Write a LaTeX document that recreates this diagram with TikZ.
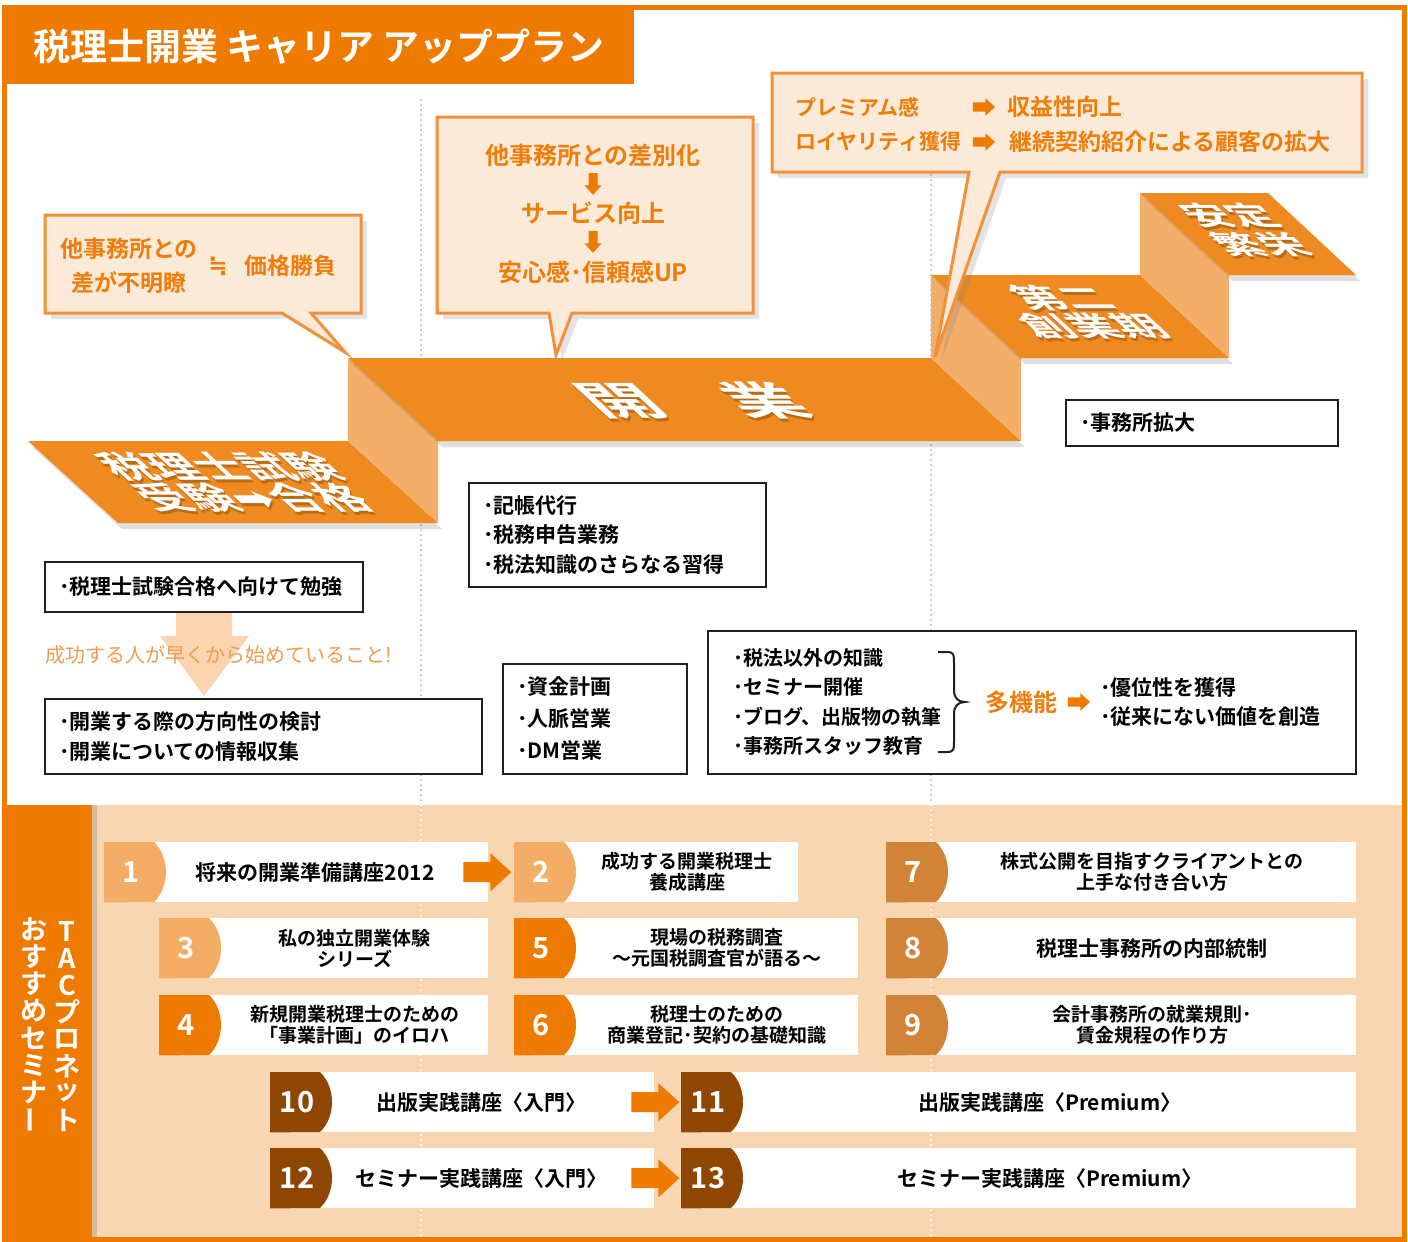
\documentclass[tikz,border=0pt]{standalone}
\usepackage{fontspec}
\setmainfont{Noto Sans CJK JP}[BoldFont={Noto Sans CJK JP Bold}]
\newfontfamily\symfont{DejaVu Sans}[BoldFont={DejaVu Sans Bold}]
\usepackage{tikz}
\usetikzlibrary{calc,shadows}

\definecolor{tacorange}{HTML}{EE7B00}
\definecolor{stepcol}{HTML}{EE8A20}
\definecolor{risercol}{HTML}{F3AF69}
\definecolor{callfill}{HTML}{FCEAD9}
\definecolor{callline}{HTML}{F0923B}
\definecolor{calltext}{HTML}{EE7D0A}
\definecolor{peach}{HTML}{F9D6B2}
\definecolor{hintarrow}{HTML}{FBD5AF}
\definecolor{hinttext}{HTML}{F29B4D}
\definecolor{boxline}{HTML}{231F20}
\definecolor{tablight}{HTML}{F3AD67}
\definecolor{tabmid}{HTML}{EE7A00}
\definecolor{tabtan}{HTML}{D18337}
\definecolor{tabbrown}{HTML}{8F4602}

\newcommand\fsz[2]{\fontsize{#1}{#2}\selectfont}

\tikzset{
  callout/.style={fill=callfill, draw=callline, line width=3,
    drop shadow={shadow xshift=6pt, shadow yshift=-6pt, opacity=0.22}},
  calltxt/.style={text=calltext, font=\fsz{23}{34}\bfseries, inner sep=0},
  txtbox/.style={draw=boxline, line width=2, fill=white, anchor=north west,
    align=left, inner xsep=14, inner ysep=0, font=\fsz{21}{29.5}\bfseries},
  boxtxt/.style={font=\fsz{20}{29.5}\bfseries, anchor=west, inner sep=0},
  stepface/.style={fill=stepcol,
    drop shadow={shadow xshift=4pt, shadow yshift=-6pt, opacity=0.25}},
  stepriser/.style={fill=risercol},
  steptxt/.style={text=white, inner sep=0, align=center, xslant=-1.08, transform shape},
  sepline/.style={gray!60, line width=2, dash pattern=on 0pt off 5pt, line cap=round},
  bandtxt/.style={text=white, font=\fsz{27}{27}\bfseries, inner sep=0},
  semibox/.style={fill=white, inner sep=0, minimum height=60, anchor=north west},
  seminum/.style={text=white, font=\fsz{29}{29}\bfseries, inner sep=0},
  semitxt/.style={font=\fsz{19}{21}\bfseries, align=center, inner sep=0},
  blockarr/.pic={\fill[pic actions] (-24,-10) -- (3,-10) -- (3,-19) -- (24,0)
    -- (3,19) -- (3,10) -- (-24,10) -- cycle;},
}

% slanted white label on a step, with its shadow
\newcommand\steplabel[5]{%
  \begin{scope}[shift={#2}]
    \node[steptxt, text=black, text opacity=0.22, yscale=#4, font=#3] at (2,3) {#5};
    \node[steptxt, yscale=#4, font=#3] (#1) at (0,0) {#5};
  \end{scope}}

% one seminar: name, left, top, right, tab colour, number, title, title shift
\newcommand\seminar[8]{%
  \node[semibox, minimum width={#4-#2}] (#1) at (#2,#3) {};
  \fill[#5] (#1.north west) -- ($(#1.north west)+(50,0)$)
    .. controls ($(#1.north west)+(66,15)$) and ($(#1.north west)+(66,45)$)
    .. ($(#1.north west)+(50,60)$) -- (#1.south west) -- cycle;
  \node[seminum] (#1n) at ($(#1.west)+(27,0)$) {#6};
  \node[semitxt] (#1t) at ($(#1.center)+(31+#8,0)$) {#7};
}

\begin{document}
\begin{tikzpicture}[x=1pt,y=-1pt]
\useasboundingbox (0,0) rectangle (1408,1242);
\fill[white] (0,0) rectangle (1408,1242);

\foreach \x in {421,931}
  \draw[sepline] (\x,100) -- (\x,805);

% steps
\fill[stepface] (28,441) -- (348,441) -- (438,523) -- (118,523) -- cycle;
\fill[stepriser] (348,358) -- (438,441) -- (438,523) -- (348,441) -- cycle;
\fill[stepface] (348,358) -- (931,358) -- (1021,441) -- (438,441) -- cycle;
\fill[stepriser] (931,275) -- (1021,358) -- (1021,441) -- (931,358) -- cycle;
\fill[stepface] (931,275) -- (1140,275) -- (1229,358) -- (1021,358) -- cycle;
\fill[stepriser] (1140,193) -- (1229,275) -- (1229,358) -- (1140,275) -- cycle;
\fill[stepface] (1140,193) -- (1268,193) -- (1356,275) -- (1229,275) -- cycle;

\steplabel{exam}{(236,482)}{\fsz{46}{42}\bfseries}{0.68}{税理士試験\\受験{\symfont\bfseries ➡}合格}
\steplabel{kaigyo}{(692,400)}{\fsz{72}{72}\bfseries}{0.55}{開　業}
\steplabel{second}{(1078,312)}{\fsz{46}{48}\bfseries}{0.6}{第二\\創業期}
\steplabel{stable}{(1245,230)}{\fsz{44}{48}\bfseries}{0.6}{安定\\繁栄}

% callouts
\draw[callout] (45,215) -- (361,215) -- (361,313) -- (311,313) -- (345,352)
  -- (282,313) -- (45,313) -- cycle;
\node[calltxt, align=center] (unclear) at (129,266) {他事務所との\\差が不明瞭};
\node[calltxt, font={\symfont\bfseries\fsz{23}{23}}] (approx) at (218,266) {≒};
\node[calltxt] (price) at (290,266) {価格勝負};

\draw[callout] (437,117) -- (753,117) -- (753,313) -- (572,313) -- (556,355)
  -- (549,313) -- (437,313) -- cycle;
\node[calltxt, font=\fsz{24}{24}\bfseries] (diff) at (593,155) {他事務所との差別化};
\pic[fill=tabmid, rotate=-90, scale=0.45] at (593,184) {blockarr};
\node[calltxt, font=\fsz{24}{24}\bfseries] (service) at (593,213) {サービス向上};
\pic[fill=tabmid, rotate=-90, scale=0.45] at (593,242) {blockarr};
\node[calltxt, font=\fsz{24}{24}\bfseries] (trust) at (593,272) {安心感･信頼感UP};

\draw[callout] (772,73) -- (1362,73) -- (1362,172) -- (1000,172) -- (935,357)
  -- (969,172) -- (772,172) -- cycle;
\node[calltxt, anchor=west, font=\fsz{21}{21}\bfseries] (premium) at (795,107) {プレミアム感};
\pic[fill=tabmid, scale=0.46] at (984,107) {blockarr};
\node[calltxt, anchor=west, font=\fsz{23}{23}\bfseries] (profit) at (1007,107) {収益性向上};
\node[calltxt, anchor=west, font=\fsz{21}{21}\bfseries] (loyal) at (795,142) {ロイヤリティ獲得};
\pic[fill=tabmid, scale=0.46] at (984,142) {blockarr};
\node[calltxt, anchor=west, font=\fsz{23}{23}\bfseries] (clients) at (1009,142) {継続契約紹介による顧客の拡大};

% boxes
\fill[hintarrow] (176,611) -- (232,611) -- (232,636) -- (249,636) -- (204,696)
  -- (160,636) -- (176,636) -- cycle;
\node[anchor=west, text=hinttext, font=\fsz{20}{20}, inner sep=0] (hint) at (45,655)
  {成功する人が早くから始めていること!};
\node[txtbox, minimum height=50, text width=290] (study) at (44,561) {･税理士試験合格へ向けて勉強};
\node[txtbox, minimum height=75, text width=409] (plan) at (44,698)
  {･開業する際の方向性の検討\\･開業についての情報収集};
\node[txtbox, minimum height=104, text width=269] (tasks) at (468,482)
  {･記帳代行\\･税務申告業務\\･税法知識のさらなる習得};
\node[txtbox, minimum height=110, text width=156, font=\fsz{21}{32}\bfseries] (sales) at (502,663)
  {･資金計画\\･人脈営業\\･DM営業};
\node[txtbox, minimum height=46, text width=244] (expand) at (1065,399) {･事務所拡大};
\node[txtbox, minimum width=648, minimum height=143] (multi) at (707,630) {};
\node[boxtxt, align=left] (others) at (733,702)
  {･税法以外の知識\\･セミナー開催\\･ブログ、出版物の執筆\\･事務所スタッフ教育};
\draw[boxline, line width=2] (938,652) -- (947,652) .. controls (954,652) and (954,655) .. (954,662)
  -- (954,690) .. controls (954,698) and (958,702) .. (965,702)
  .. controls (958,702) and (954,706) .. (954,714) -- (954,742)
  .. controls (954,749) and (954,752) .. (947,752) -- (938,752);
\node[calltxt, font=\fsz{24}{24}\bfseries] (multi fn) at (1021,702) {多機能};
\pic[fill=tabmid, scale=0.46] at (1079,702) {blockarr};
\node[boxtxt, align=left, font=\fsz{21}{29.5}\bfseries] (gain) at (1100,702) {･優位性を獲得\\･従来にない価値を創造};

% seminars
\fill[peach] (5,805) rectangle (1403,1240);
\foreach \x in {421,931}
  \draw[sepline, white] (\x,805) -- (\x,1237);
\fill[tacorange, drop shadow={shadow xshift=5pt, shadow yshift=0pt, opacity=0.3}]
  (2,805) rectangle (92,1242);
\foreach \c [count=\i from 0] in {T,A,C,プ,ロ,ネ,ッ,ト}
  \node[bandtxt] (tac\i) at (67,931+27*\i) {\c};
\foreach \c [count=\i from 0] in {お,す,す,め,セ,ミ,ナ}
  \node[bandtxt] (osu\i) at (34,929+27.3*\i) {\c};
\node[bandtxt, rotate=90] (osu7) at (34,1120) {ー};

\seminar{s1}{104}{842}{488}{tablight}{1}{\fsz{21}{21}将来の開業準備講座2012}{-12}
\seminar{s2}{514}{842}{798}{tablight}{2}{成功する開業税理士\\養成講座}{0}
\seminar{s7}{886}{842}{1356}{tabtan}{7}{株式公開を目指すクライアントとの\\上手な付き合い方}{0}
\seminar{s3}{159}{918}{488}{tablight}{3}{私の独立開業体験\\シリーズ}{0}
\seminar{s5}{514}{918}{858}{tabmid}{5}{現場の税務調査\\～元国税調査官が語る～}{0}
\seminar{s8}{886}{918}{1356}{tabtan}{8}{\fsz{21}{21}税理士事務所の内部統制}{0}
\seminar{s4}{159}{995}{488}{tabmid}{4}{新規開業税理士のための\\「事業計画」のイロハ}{0}
\seminar{s6}{514}{995}{858}{tabmid}{6}{税理士のための\\商業登記･契約の基礎知識}{0}
\seminar{s9}{886}{995}{1356}{tabtan}{9}{会計事務所の就業規則･\\賃金規程の作り方}{0}
\seminar{s10}{270}{1072}{654}{tabbrown}{10}{\fsz{21}{21}出版実践講座〈入門〉}{-12}
\seminar{s11}{681}{1072}{1356}{tabbrown}{11}{\fsz{21}{21}出版実践講座〈Premium〉}{0}
\seminar{s12}{270}{1148}{654}{tabbrown}{12}{\fsz{21}{21}セミナー実践講座〈入門〉}{-12}
\seminar{s13}{681}{1148}{1356}{tabbrown}{13}{\fsz{21}{21}セミナー実践講座〈Premium〉}{0}
\pic[fill=tabmid] at ($(s1.east)+(-1,0)$) {blockarr};
\pic[fill=tabmid] at ($(s10.east)+(1,0)$) {blockarr};
\pic[fill=tabmid] at ($(s12.east)+(1,0)$) {blockarr};

% header and frame
\fill[tacorange] (2,5) rectangle (634,84);
\node[anchor=west, text=white, font=\fsz{37}{37}\bfseries, inner sep=0] (title) at (33,47)
  {税理士開業 キャリア アッププラン};
\draw[tacorange, line width=5] (4.5,7.5) rectangle (1404.5,1239.5);
\end{tikzpicture}
\end{document}
